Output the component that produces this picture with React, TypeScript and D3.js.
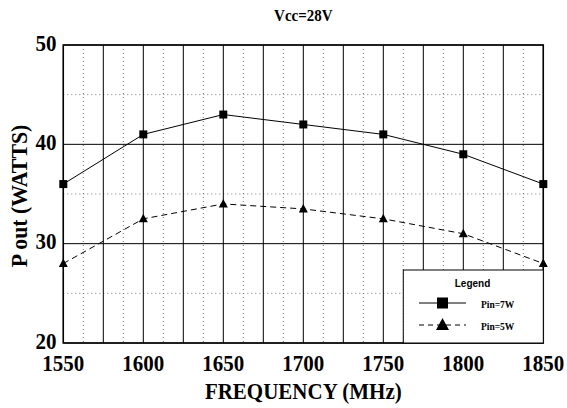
import React from "react";
import * as d3 from "d3";

const freqs = [1550, 1600, 1650, 1700, 1750, 1800, 1850];
const pin7 = [36, 41, 43, 42, 41, 39, 36];
const pin5 = [28, 32.5, 34, 33.5, 32.5, 31, 28];
const yTicks = [20, 30, 40, 50];
const seriesNames = ["Pin=7W", "Pin=5W"];

export default function App() {
  const W = 567, H = 408;
  const L = 63.3, R = 543.3, T = 45, B = 343;
  const x = d3.scaleLinear().domain([1550, 1850]).range([L, R]);
  const y = d3.scaleLinear().domain([20, 50]).range([B, T]);
  const serif = { fontFamily: '"Liberation Serif", "DejaVu Serif", serif', fontWeight: 700 } as React.CSSProperties;
  const sans = { fontFamily: '"Liberation Sans", Arial, sans-serif', fontWeight: 700 } as React.CSSProperties;

  const solidX = d3.range(1550, 1850.1, 25);
  const dotX = d3.range(1562.5, 1850, 25);
  const solidY = d3.range(20, 50.1, 10);
  const dotY = d3.range(25, 50, 10);

  const line = d3.line<number>().x((_, i) => x(freqs[i])).y((d) => y(d));

  const lg = { x0: 403.3, y0: 270 };
  const st = (tx: number, ty: number, sy = 1.1) => `translate(${tx},${ty}) scale(1,${sy})`;

  return (
    <svg width={W} height={H} style={{ position: "absolute", left: 0, top: 0, background: "#fff" }}>
      <rect width={W} height={H} fill="#fff" />
      <text transform={st((L + R) / 2, 21, 1.05)} textAnchor="middle" style={{ ...serif, fontSize: 15 }}>Vcc=28V</text>
      {dotX.map((v) => (
        <line key={"dx" + v} x1={x(v)} x2={x(v)} y1={T} y2={B} stroke="#777" strokeWidth={1} strokeDasharray="1,3" />
      ))}
      {dotY.map((v) => (
        <line key={"dy" + v} x1={L} x2={R} y1={y(v)} y2={y(v)} stroke="#777" strokeWidth={1} strokeDasharray="1,3" />
      ))}
      {solidX.map((v) => (
        <line key={"sx" + v} x1={x(v)} x2={x(v)} y1={T} y2={B} stroke="#000" strokeWidth={1} />
      ))}
      {solidY.map((v) => (
        <line key={"sy" + v} x1={L} x2={R} y1={y(v)} y2={y(v)} stroke="#000" strokeWidth={1} />
      ))}
      <rect x={L} y={T} width={R - L} height={B - T} fill="none" stroke="#000" strokeWidth={1.5} />

      <path d={line(pin7) || ""} fill="none" stroke="#000" strokeWidth={1} />
      <path d={line(pin5) || ""} fill="none" stroke="#000" strokeWidth={1} strokeDasharray="6,4" />
      {pin7.map((v, i) => (
        <rect key={"m7" + i} x={x(freqs[i]) - 4} y={y(v) - 4} width={8} height={8} fill="#000" />
      ))}
      {pin5.map((v, i) => {
        const cx = x(freqs[i]), cy = y(v);
        return <path key={"m5" + i} d={`M${cx},${cy - 5}L${cx + 4.5},${cy + 3.5}L${cx - 4.5},${cy + 3.5}Z`} fill="#000" />;
      })}

      {yTicks.map((v) => (
        <text key={"yt" + v} transform={st(56.5, y(v) + 5.5, 1.05)} textAnchor="end" style={{ ...serif, fontSize: 21 }}>{v}</text>
      ))}
      {freqs.map((v) => (
        <text key={"xt" + v} transform={st(x(v), 371)} textAnchor="middle" style={{ ...serif, fontSize: 21 }}>{v}</text>
      ))}
      <text transform={st((L + R) / 2, 399)} textAnchor="middle" style={{ ...serif, fontSize: 21 }}>FREQUENCY (MHz)</text>
      <text transform={`translate(27,${196}) rotate(-90) scale(1.04,1.1)`} textAnchor="middle" style={{ ...serif, fontSize: 21 }}>P out (WATTS)</text>

      <rect x={lg.x0} y={lg.y0} width={R - lg.x0} height={B - lg.y0} fill="#fff" stroke="#000" strokeWidth={1} />
      <text x={472.5} y={287} textAnchor="middle" style={{ ...sans, fontSize: 10 }}>Legend</text>
      <line x1={419} x2={466} y1={303} y2={303} stroke="#000" strokeWidth={1} />
      <rect x={437} y={297.5} width={11} height={11} fill="#000" />
      <line x1={419} x2={466} y1={325} y2={325} stroke="#000" strokeWidth={1} strokeDasharray="5,4" />
      <path d="M442.5,318L449,330L436,330Z" fill="#000" />
      <text transform={st(481, 307.5, 1.15)} style={{ ...serif, fontSize: 9.5 }}>{seriesNames[0]}</text>
      <text transform={st(481, 329.5, 1.15)} style={{ ...serif, fontSize: 9.5 }}>{seriesNames[1]}</text>
    </svg>
  );
}
